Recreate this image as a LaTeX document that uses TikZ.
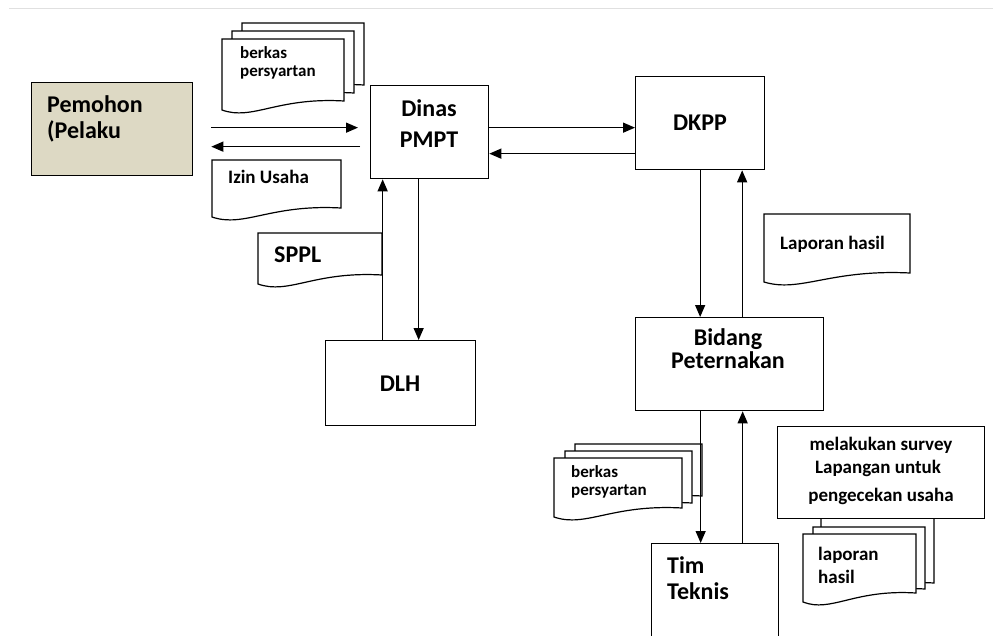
\documentclass[tikz,border=0pt]{standalone}
\usepackage{fontspec}
\setmainfont{Carlito}
\usetikzlibrary{arrows.meta,positioning}
\tikzset{
  kotak/.style={draw, line width=1.3pt, anchor=north west, inner sep=0pt},
  panah/.style={line width=1.3pt, -{Triangle[length=12pt,width=10pt]}},
  besar/.style={font=\fontsize{24}{28}\selectfont\bfseries, inner sep=0pt},
  sedang/.style={font=\fontsize{19}{22}\selectfont\bfseries, inner sep=0pt},
  kecil/.style={font=\fontsize{17}{20}\selectfont\bfseries, inner sep=0pt},
}
% dokumen dengan sisi bawah bergelombang
\newcommand{\dok}[4]{%
  \draw[line width=1.2pt, fill=white] (#1,#2) -- ({#1+#3},#2) -- ({#1+#3},{#2+#4})
    .. controls ({#1+0.45*#3},{#2+#4-4}) and ({#1+0.25*#3},{#2+#4+20}) .. (#1,{#2+#4+9}) -- cycle;}
\begin{document}
\begin{tikzpicture}[x=1pt,y=-1pt]
        \useasboundingbox (0,0) rectangle (993,635);
        \clip (0,0) rectangle (993,635);
        \draw [black!12, line width=1pt] (9,8) -- (993,8);
        % kotak
        \node [kotak, fill={rgb,255:red,221;green,217;blue,196}, minimum width=161pt, minimum height=93pt] (pemohon) at (31,82) {};
        \node [kotak, minimum width=118pt, minimum height=93pt] (dinas) at (370,85) {};
        \node [kotak, minimum width=150pt, minimum height=85pt] (dlh) at (325,340) {};
        \node [kotak, minimum width=129pt, minimum height=93pt] (dkpp) at (635,76) {};
        \node [kotak, minimum width=188pt, minimum height=93pt] (bidang) at (635,317) {};
        \node [kotak, minimum width=127pt, minimum height=110pt] (tim) at (651,543) {};
        % dokumen
        \dok{242}{23}{122}{62}
        \dok{232}{31}{122}{62}
        \dok{222}{39}{122}{62}
        \dok{212}{160}{129}{48}
        \dok{258}{233}{124}{42}
        \dok{764}{214}{146}{59}
        \dok{575}{444}{127}{52}
        \dok{565}{451}{127}{52}
        \dok{554}{458}{128}{50}
        \dok{821}{505}{113}{78}
        \node [kotak, fill=white, minimum width=207pt, minimum height=92pt] (survey) at (777,426) {};
        \dok{813}{527}{112}{62}
        \dok{803}{534}{113}{59}
        % teks
        \node [besar, anchor=base west] (t-pemohon) at (47,112) {Pemohon};
        \node [besar, anchor=base west] (t-pelaku) at (47,138) {(Pelaku};
        \node [kecil, anchor=base west] (t-berkas) at (240,58) {berkas};
        \node [kecil, anchor=base west] (t-syarat) at (240,76) {persyartan};
        \node [sedang, anchor=base west] (t-izin) at (228,183) {Izin Usaha};
        \node [besar, anchor=base west] (t-sppl) at (274,262) {SPPL};
        \node [besar, anchor=base] (t-dinas) at (429,116) {Dinas};
        \node [besar, anchor=base] (t-pmpt) at (429,147) {PMPT};
        \node [besar, anchor=base] (t-dlh) at (400,391) {DLH};
        \node [besar, anchor=base] (t-dkpp) at (700,130) {DKPP};
        \node [sedang, anchor=base west] (t-lapor) at (780,249) {Laporan hasil};
        \node [besar, anchor=base] (t-bidang) at (728,345) {Bidang};
        \node [besar, anchor=base] (t-ternak) at (728,368) {Peternakan};
        \node [sedang, anchor=base] (t-survey1) at (881,450) {melakukan survey};
        \node [sedang, anchor=base] (t-survey2) at (878,473) {Lapangan untuk};
        \node [sedang, anchor=base] (t-survey3) at (881,501) {pengecekan usaha};
        \node [kecil, anchor=base west] (t-berkas2) at (571,477) {berkas};
        \node [kecil, anchor=base west] (t-syarat2) at (571,495) {persyartan};
        \node [besar, anchor=base west] (t-tim) at (667,573) {Tim};
        \node [besar, anchor=base west] (t-teknis) at (667,599) {Teknis};
        \node [sedang, anchor=base west] (t-laporan) at (818,560) {laporan};
        \node [sedang, anchor=base west] (t-hasil) at (818,583) {hasil};
        % panah
        \coordinate (p-kirim) at ([xshift=18pt,yshift=1.5pt]pemohon.east);
        \coordinate (p-terima) at ([xshift=18pt,yshift=-17.5pt]pemohon.east);
        \draw [panah] (p-kirim) -- ([xshift=-12pt]p-kirim -| dinas.west);
        \draw [panah] ([xshift=-10pt]p-terima -| dinas.west) -- (p-terima);
        \draw [panah] ([yshift=4.5pt]dinas.east) -- ([yshift=4.5pt]dinas.east -| dkpp.west);
        \draw [panah] ([yshift=-30.5pt]dkpp.west) -- ([yshift=-30.5pt]dkpp.west -| dinas.east);
        \draw [panah] ([xshift=-11pt]dinas.south) -- ([xshift=-11pt]dinas.south |- dlh.north);
        \draw [panah] ([xshift=-47pt]dinas.south |- dlh.north) -- ([xshift=-47pt]dinas.south);
        \draw [panah] (dkpp.south) -- (dkpp.south |- bidang.north);
        \draw [panah] ([xshift=42pt]dkpp.south |- bidang.north) -- ([xshift=42pt]dkpp.south);
        \draw [panah] ([xshift=-29pt]bidang.south) -- ([xshift=-29pt]bidang.south |- tim.north);
        \draw [panah] ([xshift=13pt]bidang.south |- tim.north) -- ([xshift=13pt]bidang.south);
\end{tikzpicture}
\end{document}
